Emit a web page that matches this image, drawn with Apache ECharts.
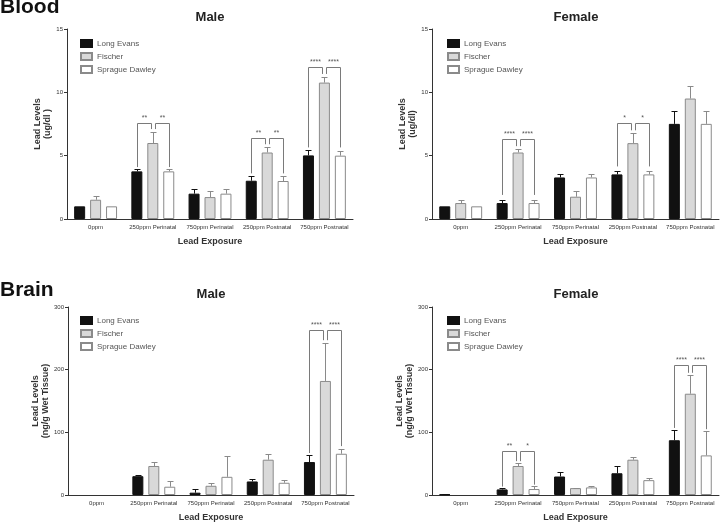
<!DOCTYPE html>
<html>
<head>
<meta charset="utf-8">
<script src="https://cdn.jsdelivr.net/npm/echarts@6/dist/echarts.min.js"></script>
<style>html,body{margin:0;padding:0;background:#fff;}#c{width:720px;height:523px;}</style>
</head>
<body>
<div id="c"></div>
<script>
// ---------- DATA ----------
const categories = ['0ppm', '250ppm Perinatal', '750ppm Perinatal', '250ppm Postnatal', '750ppm Postnatal'];
const strains = ['Long Evans', 'Fischer', 'Sprague Dawley'];

// Blood, Male (ug/dl)
const bloodMaleLE = [1.0, 3.76, 2.0, 3.02, 5.02];
const bloodMaleF  = [1.52, 6.0, 1.73, 5.25, 10.77];
const bloodMaleSD = [1.0, 3.76, 2.0, 3.0, 5.0];
const bloodMaleLEErr = [0, 0.2, 0.4, 0.4, 0.4];
const bloodMaleFErr  = [0.3, 0.9, 0.47, 0.47, 0.45];
const bloodMaleSDErr = [0, 0.2, 0.4, 0.4, 0.4];
// significance brackets: [category, bracket level, left leg end, middle leg end, right leg end]
const bloodMaleSig = [[1, 7.6, 4.1, 7.1, 4.1], [3, 6.4, 3.6, 5.9, 3.6], [4, 12.0, 5.65, 11.45, 5.65]];
const bloodMaleStars = [['**', '**'], ['**', '**'], ['****', '****']];

// Blood, Female (ug/dl)
const bloodFemaleLE = [1.0, 1.26, 3.28, 3.52, 7.51];
const bloodFemaleF  = [1.26, 5.25, 1.76, 5.99, 9.51];
const bloodFemaleSD = [1.0, 1.26, 3.28, 3.52, 7.51];
const bloodFemaleLEErr = [0, 0.26, 0.26, 0.26, 1.02];
const bloodFemaleFErr  = [0.26, 0.26, 0.47, 0.79, 1.0];
const bloodFemaleSDErr = [0, 0.26, 0.26, 0.26, 1.02];
const bloodFemaleSig = [[1, 6.35, 1.9, 5.75, 1.9], [3, 7.6, 4.15, 7.0, 4.15]];
const bloodFemaleStars = [['****', '****'], ['*', '*']];

// Brain, Male (ng/g wet tissue)
const brainMaleLE = [0, 30, 3.7, 21.6, 52.6];
const brainMaleF  = [0, 46.3, 14.7, 56.3, 182];
const brainMaleSD = [0, 13.2, 29, 19.5, 65.8];
const brainMaleLEErr = [0, 1.6, 5.3, 3.2, 11];
const brainMaleFErr  = [0, 6.8, 4.7, 8.4, 61];
const brainMaleSDErr = [0, 8.4, 33, 3.7, 8.4];
const brainMaleSig = [[4, 263, 67, 247, 78]];
const brainMaleStars = [['****', '****']];

// Brain, Female (ng/g wet tissue)
const brainFemaleLE = [1, 8.9, 29.5, 34.7, 87.4];
const brainFemaleF  = [0, 46.3, 11, 56.3, 161.6];
const brainFemaleSD = [0, 9.5, 12.1, 23.7, 63.2];
const brainFemaleLEErr = [0.5, 1.6, 7.4, 12.1, 15.8];
const brainFemaleFErr  = [0, 5.3, 0.5, 4.7, 30];
const brainFemaleSDErr = [0, 4.2, 2.6, 4.2, 38.4];
const brainFemaleSig = [[1, 70, 13.5, 54, 16.5], [4, 208, 107, 195, 105]];
const brainFemaleStars = [['**', '*'], ['****', '****']];

const bloodTicks = {min: 0, max: 15, interval: 5};
const brainTicks = {min: 0, max: 300, interval: 100};

// ---------- STYLE / LAYOUT ----------
const FONT = '"Liberation Sans", Arial, sans-serif';
const BAR_W = 11;
const GAP_FRAC = 0.45;
const STEP = BAR_W * (1 + GAP_FRAC);
const CAP = 3;
const BAR_STYLES = [
  {color: '#111', borderColor: '#111', borderWidth: 1},
  {color: '#d9d9d9', borderColor: '#8a8a8a', borderWidth: 1},
  {color: '#ffffff', borderColor: '#8a8a8a', borderWidth: 1}
];
const ERR_COLORS = ['#111', '#8a8a8a', '#8a8a8a'];
const AXIS_COLOR = '#333';

const panels = [
  {grid: {left: 67, top: 29, width: 286, height: 190}, ticks: bloodTicks, yName: 'Lead Levels\n(ug/dl )',
   means: [bloodMaleLE, bloodMaleF, bloodMaleSD], errs: [bloodMaleLEErr, bloodMaleFErr, bloodMaleSDErr],
   sig: bloodMaleSig, stars: bloodMaleStars, legend: {left: 75, top: 34}},
  {grid: {left: 432, top: 29, width: 287, height: 190}, ticks: bloodTicks, yName: 'Lead Levels\n(ug/dl)',
   means: [bloodFemaleLE, bloodFemaleF, bloodFemaleSD], errs: [bloodFemaleLEErr, bloodFemaleFErr, bloodFemaleSDErr],
   sig: bloodFemaleSig, stars: bloodFemaleStars, legend: {left: 442, top: 34}},
  {grid: {left: 68, top: 307, width: 286, height: 190}, ticks: brainTicks, yName: 'Lead Levels\n(ng/g Wet Tissue)',
   means: [brainMaleLE, brainMaleF, brainMaleSD], errs: [brainMaleLEErr, brainMaleFErr, brainMaleSDErr],
   sig: brainMaleSig, stars: brainMaleStars, legend: {left: 75, top: 311}},
  {grid: {left: 432, top: 307, width: 287, height: 190}, ticks: brainTicks, yName: 'Lead Levels\n(ng/g Wet Tissue)',
   means: [brainFemaleLE, brainFemaleF, brainFemaleSD], errs: [brainFemaleLEErr, brainFemaleFErr, brainFemaleSDErr],
   sig: brainFemaleSig, stars: brainFemaleStars, legend: {left: 442, top: 311}}
];

function errRender(params, api) {
  const cat = api.value(0), s = api.value(1), m = api.value(2), e = api.value(3);
  if (!(e > 0)) return null;
  const base = api.coord([cat, m]);
  const top = api.coord([cat, m + e]);
  const x = Math.round(base[0] + (s - 1) * STEP) + 0.5;
  const yt = Math.round(top[1]) + 0.5;
  const c = ERR_COLORS[s];
  return {type: 'group', children: [
    {type: 'line', shape: {x1: x, y1: base[1], x2: x, y2: yt}, style: {stroke: c, lineWidth: 1}},
    {type: 'line', shape: {x1: x - CAP, y1: yt, x2: x + CAP, y2: yt}, style: {stroke: c, lineWidth: 1}}
  ]};
}

function makeSigRender(stars) {
  return function (params, api) {
    const cat = api.value(0);
    const pTop = api.coord([cat, api.value(1)]);
    const yTop = Math.round(pTop[1]) + 0.5;
    const yL = api.coord([cat, api.value(2)])[1];
    const yM = api.coord([cat, api.value(3)])[1];
    const yR = api.coord([cat, api.value(4)])[1];
    const xc = pTop[0];
    const xL = Math.round(xc - STEP) + 0.5, xR = Math.round(xc + STEP) + 0.5;
    const xM1 = Math.round(xc - 2) + 0.5, xM2 = Math.round(xc + 2) + 0.5;
    const st = {stroke: '#7a7a7a', lineWidth: 1, fill: null};
    const lab = stars[params.dataIndex];
    const ts = (t, x) => ({type: 'text', style: {text: t, x: x, y: yTop - 2, textAlign: 'center', textVerticalAlign: 'bottom',
      font: '7px ' + FONT, fill: '#555'}});
    return {type: 'group', children: [
      {type: 'polyline', shape: {points: [[xL, yL], [xL, yTop], [xM1, yTop], [xM1, yM]]}, style: st},
      {type: 'polyline', shape: {points: [[xM2, yM], [xM2, yTop], [xR, yTop], [xR, yR]]}, style: st},
      ts(lab[0], (xL + xM1) / 2), ts(lab[1], (xM2 + xR) / 2)
    ]};
  };
}

const grids = [], xAxes = [], yAxes = [], series = [], legends = [];
panels.forEach((p, i) => {
  grids.push(Object.assign({containLabel: false}, p.grid));
  xAxes.push({
    type: 'category', gridIndex: i, data: categories, boundaryGap: true,
    name: 'Lead Exposure', nameLocation: 'middle', nameGap: 18,
    nameTextStyle: {fontFamily: FONT, fontWeight: 'bold', fontSize: 9, color: '#333'},
    axisLine: {lineStyle: {color: AXIS_COLOR, width: 1}},
    axisTick: {alignWithLabel: true, length: 3, lineStyle: {color: AXIS_COLOR}},
    axisLabel: {fontFamily: FONT, fontSize: 6, color: '#333', margin: 5, interval: 0}
  });
  yAxes.push({
    type: 'value', gridIndex: i, min: p.ticks.min, max: p.ticks.max, interval: p.ticks.interval,
    name: p.yName, nameLocation: 'middle', nameRotate: 90, nameGap: 14,
    nameTextStyle: {fontFamily: FONT, fontWeight: 'bold', fontSize: 9, lineHeight: 10, color: '#333', align: 'center'},
    axisLine: {show: true, lineStyle: {color: AXIS_COLOR, width: 1}},
    axisTick: {show: true, length: 3, lineStyle: {color: AXIS_COLOR}},
    axisLabel: {fontFamily: FONT, fontSize: 6, color: '#333', margin: 4},
    splitLine: {show: false}
  });
  strains.forEach((name, s) => {
    series.push({
      type: 'bar', name: name, xAxisIndex: i, yAxisIndex: i,
      data: p.means[s].map(v => (v === 0 ? null : v)),
      barWidth: BAR_W, barGap: (GAP_FRAC * 100) + '%',
      itemStyle: BAR_STYLES[s], emphasis: {disabled: true}, silent: true
    });
  });
  const errData = [];
  for (let s = 0; s < 3; s++) for (let c = 0; c < categories.length; c++) errData.push([c, s, p.means[s][c], p.errs[s][c]]);
  series.push({type: 'custom', xAxisIndex: i, yAxisIndex: i, data: errData, encode: {x: 0, y: 2},
    renderItem: errRender, silent: true, z: 3});
  series.push({type: 'custom', xAxisIndex: i, yAxisIndex: i, data: p.sig, encode: {x: 0, y: 1},
    renderItem: makeSigRender(p.stars), silent: true, z: 3});
  legends.push({
    data: strains, orient: 'vertical', left: p.legend.left, top: p.legend.top,
    itemWidth: 11, itemHeight: 7, itemGap: 4, icon: 'rect', selectedMode: false,
    textStyle: {fontFamily: FONT, fontSize: 8, color: '#555'}
  });
});

const chart = echarts.init(document.getElementById('c'), null, {renderer: 'canvas'});
chart.setOption({
  animation: false,
  backgroundColor: '#fff',
  grid: grids, xAxis: xAxes, yAxis: yAxes, series: series, legend: legends,
  graphic: [
    {type: 'text', x: 0, y: 7, style: {text: 'Blood', font: 'bold 21px ' + FONT, fill: '#111', textAlign: 'left', textVerticalAlign: 'middle'}},
    {type: 'text', x: 0, y: 290, style: {text: 'Brain', font: 'bold 21px ' + FONT, fill: '#111', textAlign: 'left', textVerticalAlign: 'middle'}},
    {type: 'text', x: 210, y: 17, style: {text: 'Male', font: 'bold 13px ' + FONT, fill: '#222', textAlign: 'center', textVerticalAlign: 'middle'}},
    {type: 'text', x: 576, y: 17, style: {text: 'Female', font: 'bold 13px ' + FONT, fill: '#222', textAlign: 'center', textVerticalAlign: 'middle'}},
    {type: 'text', x: 211, y: 294, style: {text: 'Male', font: 'bold 13px ' + FONT, fill: '#222', textAlign: 'center', textVerticalAlign: 'middle'}},
    {type: 'text', x: 576, y: 294, style: {text: 'Female', font: 'bold 13px ' + FONT, fill: '#222', textAlign: 'center', textVerticalAlign: 'middle'}}
  ]
});
</script>
</body>
</html>
